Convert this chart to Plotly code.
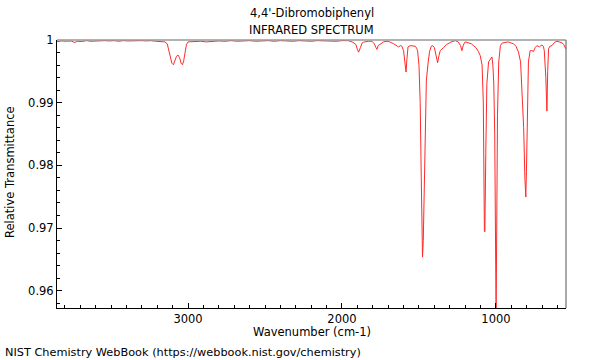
import plotly.graph_objects as go

wavenumber = [3851, 3820, 3790, 3760, 3735, 3720, 3690, 3660, 3630, 3600, 3570, 3540, 3510, 3480,
              3450, 3420, 3390, 3360, 3330, 3300, 3270, 3240, 3210, 3180, 3150, 3135, 3125, 3115,
              3105, 3095, 3085, 3075, 3065, 3055, 3045, 3036, 3028, 3020, 3010, 3000, 2960, 2920,
              2880, 2840, 2800, 2760, 2720, 2680, 2640, 2600, 2560, 2520, 2480, 2440, 2400, 2360,
              2320, 2280, 2240, 2200, 2160, 2120, 2080, 2040, 2000, 1960, 1930, 1910, 1900, 1892,
              1880, 1870, 1860, 1830, 1805, 1790, 1780, 1773, 1765, 1751, 1730, 1708, 1690, 1665,
              1650, 1633, 1620, 1611, 1600, 1590, 1584, 1578, 1571, 1557, 1540, 1524, 1515, 1509,
              1500, 1492, 1485, 1480, 1477, 1472, 1465, 1458, 1452, 1440, 1431, 1420, 1410, 1400,
              1390, 1379, 1370, 1362, 1340, 1319, 1290, 1264, 1245, 1230, 1221, 1212, 1200, 1180,
              1160, 1146, 1130, 1115, 1102, 1090, 1082, 1075, 1072, 1066, 1059, 1048, 1036, 1026,
              1020, 1014, 1008, 1003, 999, 995, 990, 982, 971, 960, 940, 920, 900, 886, 870, 854,
              840, 832, 820, 812, 806, 802, 795, 789, 778, 766, 756, 745, 734, 725, 717, 708, 701,
              692, 686, 676, 669, 664, 658, 650, 636, 620, 604, 590, 571, 560, 546]

transmittance = [0.99975, 0.99985, 0.9998, 0.99985, 0.9996, 0.9998, 0.99975, 0.9999, 0.9998, 0.99985,
                 0.9998, 0.9999, 0.99985, 0.9999, 0.9998, 0.9999, 0.99985, 0.9999, 0.99995, 0.9999,
                 0.99985, 0.9999, 0.9998, 0.9998, 0.9997, 0.9994, 0.9985, 0.9972, 0.9963, 0.99605,
                 0.9966, 0.9974, 0.9976, 0.9972, 0.9963, 0.99605, 0.9967, 0.9982, 0.9993, 0.9997,
                 0.99975, 0.9998, 0.9997, 0.9998, 0.99985, 0.9998, 0.9999, 0.9998, 0.99985, 0.9999,
                 0.9998, 0.99985, 0.9999, 0.9998, 0.9999, 0.99985, 0.9998, 0.9999, 0.99985, 0.9998,
                 0.9999, 0.99985, 0.9999, 0.9998, 0.9999, 0.9999, 0.99965, 0.9993, 0.9985, 0.99806,
                 0.9988, 0.9995, 0.99965, 0.9998, 0.9998, 0.9994, 0.9988, 0.9985, 0.9991, 0.9994,
                 0.9997, 0.9998, 0.9997, 0.9994, 0.9992, 0.9989, 0.9991, 0.999, 0.9983, 0.996,
                 0.99489, 0.997, 0.9989, 0.9991, 0.99905, 0.999, 0.9987, 0.9983, 0.996, 0.99,
                 0.978, 0.968, 0.96537, 0.968, 0.978, 0.988, 0.9936, 0.9965, 0.9982, 0.999,
                 0.9991, 0.9988, 0.9978, 0.99638, 0.9975, 0.9983, 0.9988, 0.9993, 0.9997, 0.9999,
                 0.9997, 0.9991, 0.9983, 0.9992, 0.9997, 0.9995, 0.9994, 0.9991, 0.9988, 0.9982,
                 0.9975, 0.996, 0.99, 0.9695, 0.9694, 0.982, 0.993, 0.9965, 0.997, 0.9973,
                 0.996, 0.993, 0.985, 0.97, 0.956, 0.97, 0.988, 0.9965, 0.9991, 0.9995,
                 0.99965, 0.9997, 0.9995, 0.9994, 0.999, 0.9981, 0.9965, 0.9928, 0.986, 0.978,
                 0.97495, 0.979, 0.99, 0.9965, 0.9983, 0.9983, 0.99817, 0.9988, 0.9991, 0.999,
                 0.9989, 0.9991, 0.9992, 0.999, 0.9983, 0.994, 0.98865, 0.995, 0.9986, 0.999,
                 0.9991, 0.9996, 0.9998, 0.9997, 0.99955, 0.9993, 0.9986]

x_tick_vals = [3000, 2000, 1000]
x_tick_text = ["3000", "2000", "1000"]
y_tick_vals = [1.0, 0.99, 0.98, 0.97, 0.96]
y_tick_text = ["1", "0.99", "0.98", "0.97", "0.96"]

FONT = "DejaVu Sans"
FS = 11.5

fig = go.Figure()
fig.add_trace(go.Scatter(x=wavenumber, y=transmittance, mode="lines",
                         line=dict(color="#ff2a2a", width=1), showlegend=False,
                         hoverinfo="skip"))

fig.update_layout(
    width=600, height=360,
    margin=dict(l=57, r=34, t=40, b=52),
    paper_bgcolor="white", plot_bgcolor="white",
    font=dict(family=FONT, size=FS, color="black"),
    xaxis=dict(range=[3851, 545], tickmode="array", tickvals=x_tick_vals, ticktext=x_tick_text,
               ticks="inside", ticklen=5, tickcolor="black", tickwidth=1,
               showline=True, linecolor="black", linewidth=1, mirror=False,
               showgrid=False, zeroline=False,
               minor=dict(tick0=0, dtick=100, ticks="inside", ticklen=3,
                          tickcolor="black", showgrid=False)),
    yaxis=dict(range=[0.95725, 1.0], tickmode="array", tickvals=y_tick_vals, ticktext=y_tick_text,
               ticks="inside", ticklen=5, tickcolor="black", tickwidth=1,
               showline=True, linecolor="black", linewidth=1, mirror=False,
               showgrid=False, zeroline=False,
               minor=dict(tick0=0.96, dtick=0.002, ticks="inside", ticklen=3,
                          tickcolor="black", showgrid=False)),
    shapes=[
        dict(type="line", xref="paper", yref="paper", x0=0, x1=1, y0=1, y1=1,
             line=dict(color="#999999", width=1.5)),
        dict(type="line", xref="paper", yref="paper", x0=1, x1=1, y0=0, y1=1,
             line=dict(color="#555555", width=1)),
    ],
    annotations=[
        dict(text="4,4'-Dibromobiphenyl", xref="paper", yref="paper", x=0.5, y=(308 - 13) / 268,
             xanchor="center", yanchor="middle", showarrow=False),
        dict(text="INFRARED SPECTRUM", xref="paper", yref="paper", x=0.5, y=(308 - 30) / 268,
             xanchor="center", yanchor="middle", showarrow=False),
        dict(text="Wavenumber (cm-1)", xref="paper", yref="paper", x=0.5, y=(308 - 332) / 268,
             xanchor="center", yanchor="middle", showarrow=False),
        dict(text="Relative Transmittance", xref="paper", yref="paper", x=(10 - 57) / 509,
             y=(308 - 172) / 268, xanchor="center", yanchor="middle", textangle=-90,
             showarrow=False),
        dict(text="NIST Chemistry WebBook (https://webbook.nist.gov/chemistry)", xref="paper",
             yref="paper", x=(3 - 57) / 509, y=(308 - 352) / 268, xanchor="left",
             yanchor="middle", showarrow=False, font=dict(size=11.3)),
    ],
)

fig.write_html("out.html", config={"displayModeBar": False, "staticPlot": True},
               post_script="document.body.style.margin='0';document.body.style.padding='0';")
